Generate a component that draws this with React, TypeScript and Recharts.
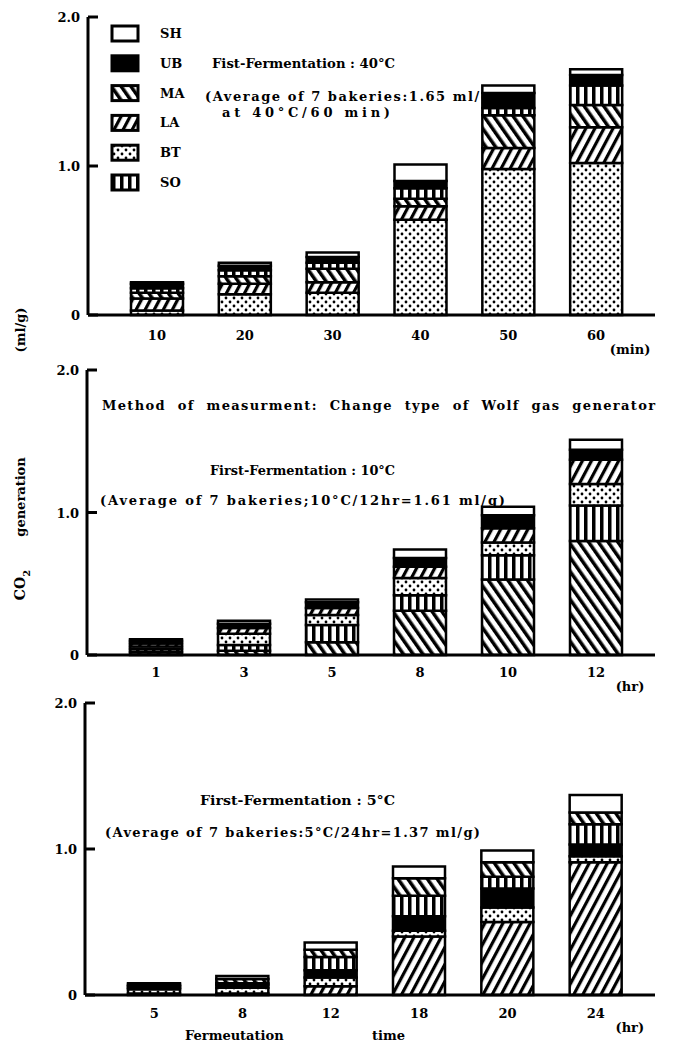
import { Bar, BarChart, XAxis, YAxis } from 'recharts';

const SERIF = '"DejaVu Serif", "Liberation Serif", serif';

type Key = 'SH' | 'UB' | 'MA' | 'LA' | 'BT' | 'SO';

// First fermentation 40°C (min)
const cats40 = ['10', '20', '30', '40', '50', '60'];
const bt40 = [0.03, 0.14, 0.15, 0.64, 0.98, 1.02];
const la40 = [0.08, 0.07, 0.07, 0.09, 0.14, 0.24];
const ma40 = [0.04, 0.05, 0.09, 0.05, 0.22, 0.15];
const so40 = [0.03, 0.04, 0.04, 0.07, 0.05, 0.13];
const ub40 = [0.03, 0.03, 0.04, 0.05, 0.1, 0.07];
const sh40 = [0.01, 0.02, 0.03, 0.11, 0.05, 0.04];

// First fermentation 10°C (hr)
const cats10 = ['1', '3', '5', '8', '10', '12'];
const ma10 = [0.02, 0.03, 0.09, 0.31, 0.53, 0.8];
const so10 = [0.02, 0.04, 0.12, 0.11, 0.17, 0.25];
const bt10 = [0.02, 0.08, 0.07, 0.12, 0.09, 0.15];
const la10 = [0.02, 0.04, 0.05, 0.08, 0.1, 0.17];
const ub10 = [0.02, 0.03, 0.04, 0.06, 0.09, 0.07];
const sh10 = [0.01, 0.02, 0.02, 0.06, 0.06, 0.07];

// First fermentation 5°C (hr)
const cats5 = ['5', '8', '12', '18', '20', '24'];
const la5 = [0.01, 0.01, 0.06, 0.4, 0.5, 0.91];
const bt5 = [0.03, 0.04, 0.06, 0.04, 0.1, 0.04];
const ub5 = [0.01, 0.02, 0.05, 0.1, 0.13, 0.08];
const so5 = [0.01, 0.01, 0.09, 0.14, 0.08, 0.14];
const ma5 = [0.01, 0.03, 0.05, 0.12, 0.1, 0.08];
const sh5 = [0.01, 0.02, 0.05, 0.08, 0.08, 0.12];

const LEGEND: Key[] = ['SH', 'UB', 'MA', 'LA', 'BT', 'SO'];

const FILL: Record<Key, string> = {
  SH: '#fff',
  UB: '#000',
  MA: 'url(#pMA)',
  LA: 'url(#pLA)',
  BT: 'url(#pBT)',
  SO: 'url(#pSO)',
};

const rows40 = cats40.map((t, i) => ({ t, BT: bt40[i], LA: la40[i], MA: ma40[i], SO: so40[i], UB: ub40[i], SH: sh40[i] }));
const rows10 = cats10.map((t, i) => ({ t, MA: ma10[i], SO: so10[i], BT: bt10[i], LA: la10[i], UB: ub10[i], SH: sh10[i] }));
const rows5 = cats5.map((t, i) => ({ t, LA: la5[i], BT: bt5[i], UB: ub5[i], SO: so5[i], MA: ma5[i], SH: sh5[i] }));

const txt = { fontFamily: SERIF, fontWeight: 700, fontSize: 13, fill: '#000' } as const;

function YTick({ x, y, payload }: any) {
  const v = payload.value as number;
  return (
    <g>
      <line x1={x} x2={x + 10} y1={y} y2={y} stroke="#000" strokeWidth={3} />
      <text x={x - 8} y={y + 5} textAnchor="end" {...txt}>
        {v === 0 ? '0' : v.toFixed(1)}
      </text>
    </g>
  );
}

function makeXTick(dy: number, unit: string) {
  return function XTick({ x, y, payload, index }: any) {
    return (
      <g>
        <text x={x} y={y + dy} textAnchor="middle" {...txt}>
          {payload.value}
        </text>
        {index === 5 && (
          <text x={x + 34} y={y + dy + 14} textAnchor="middle" {...txt}>
            {unit}
          </text>
        )}
      </g>
    );
  };
}

function Panel({ top, height, mt, mb, left, rows, order, unit, dy }: any) {
  return (
    <div style={{ position: 'absolute', left: 0, top }}>
      <BarChart
        width={683}
        height={height}
        data={rows}
        margin={{ top: mt, right: 28, bottom: mb, left }}
        barSize={52}
      >
        <XAxis
          dataKey="t"
          height={40}
          interval={0}
          padding={{ left: 25, right: 15 }}
          axisLine={{ stroke: '#000', strokeWidth: 3 }}
          tickLine={false}
          tickSize={0}
          tickMargin={0}
          tick={makeXTick(dy, unit)}
        />
        <YAxis
          width={60}
          domain={[0, 2]}
          ticks={[0, 1, 2]}
          axisLine={{ stroke: '#000', strokeWidth: 3 }}
          tickLine={false}
          tickSize={0}
          tickMargin={0}
          tick={<YTick />}
        />
        {order.map((k: Key) => (
          <Bar
            key={k}
            dataKey={k}
            stackId="a"
            fill={FILL[k]}
            stroke="#000"
            strokeWidth={2.5}
            isAnimationActive={false}
          />
        ))}
      </BarChart>
    </div>
  );
}

export default function App() {
  return (
    <div style={{ position: 'absolute', left: 0, top: 0, width: 683, height: 1046, background: '#fff' }}>
      <svg width={0} height={0} style={{ position: 'absolute' }}>
        <defs>
          <pattern id="pMA" width={8} height={8} patternUnits="userSpaceOnUse" patternTransform="rotate(-35)">
            <rect width={8} height={8} fill="#fff" />
            <rect width={3.5} height={8} fill="#000" />
          </pattern>
          <pattern id="pLA" width={8} height={8} patternUnits="userSpaceOnUse" patternTransform="rotate(28)">
            <rect width={8} height={8} fill="#fff" />
            <rect width={3.2} height={8} fill="#000" />
          </pattern>
          <pattern id="pSO" width={8} height={8} patternUnits="userSpaceOnUse">
            <rect width={8} height={8} fill="#fff" />
            <rect width={3.5} height={8} fill="#000" />
          </pattern>
          <pattern id="pBT" width={8} height={8} patternUnits="userSpaceOnUse">
            <rect width={8} height={8} fill="#fff" />
            <circle cx={2} cy={2} r={1.4} fill="#000" />
            <circle cx={6} cy={6} r={1.4} fill="#000" />
          </pattern>
        </defs>
      </svg>

      <Panel top={0} height={360} mt={17} mb={5} left={28} rows={rows40}
        order={['BT', 'LA', 'MA', 'SO', 'UB', 'SH']} unit="(min)" dy={25} />
      <Panel top={360} height={340} mt={10} mb={5} left={27} rows={rows10}
        order={['MA', 'SO', 'BT', 'LA', 'UB', 'SH']} unit="(hr)" dy={22} />
      <Panel top={690} height={356} mt={13} mb={11} left={25} rows={rows5}
        order={['LA', 'BT', 'UB', 'SO', 'MA', 'SH']} unit="(hr)" dy={23} />

      <svg width={683} height={1046} style={{ position: 'absolute', left: 0, top: 0, pointerEvents: 'none' }}>
        {LEGEND.map((k, i) => {
          const cy = 33 + i * 29.8;
          return (
            <g key={k}>
              <rect x={112} y={cy - 7} width={26} height={15} fill={FILL[k]} stroke="#000" strokeWidth={3} />
              <text x={160} y={cy + 5} {...txt}>{k}</text>
            </g>
          );
        })}

        <text x={212} y={68} textLength={183} lengthAdjust="spacingAndGlyphs" {...txt}>Fist-Fermentation : 40°C</text>
        <text x={205} y={101} textLength={285} lengthAdjust="spacing" {...txt}>(Average of 7 bakeries:1.65 ml/g</text>
        <text x={222} y={117} textLength={168} lengthAdjust="spacing" {...txt}>at 40°C/60 min)</text>

        <text x={102} y={410} textLength={553} lengthAdjust="spacing" wordSpacing={6} {...txt}>Method of measurment: Change type of Wolf gas generator</text>
        <text x={210} y={475} textLength={185} lengthAdjust="spacingAndGlyphs" {...txt}>First-Fermentation : 10°C</text>
        <text x={100} y={505} textLength={405} lengthAdjust="spacing" {...txt}>(Average of 7 bakeries;10°C/12hr=1.61 ml/g)</text>

        <text x={200} y={805} textLength={195} lengthAdjust="spacingAndGlyphs" {...txt}>First-Fermentation : 5°C</text>
        <text x={105} y={837} textLength={375} lengthAdjust="spacing" {...txt}>(Average of 7 bakeries:5°C/24hr=1.37 ml/g)</text>

        <text x={185} y={1040} {...txt}>Fermeutation</text>
        <text x={372} y={1040} {...txt}>time</text>

        <text transform="translate(25 330) rotate(-90)" textAnchor="middle" {...txt}>(ml/g)</text>
        <text transform="translate(25 497) rotate(-90)" textAnchor="middle" {...txt}>generation</text>
        <text transform="translate(25 585) rotate(-90)" textAnchor="middle" {...txt} fontSize={14}>
          CO<tspan dy={5} fontSize={10}>2</tspan>
        </text>
      </svg>
    </div>
  );
}
